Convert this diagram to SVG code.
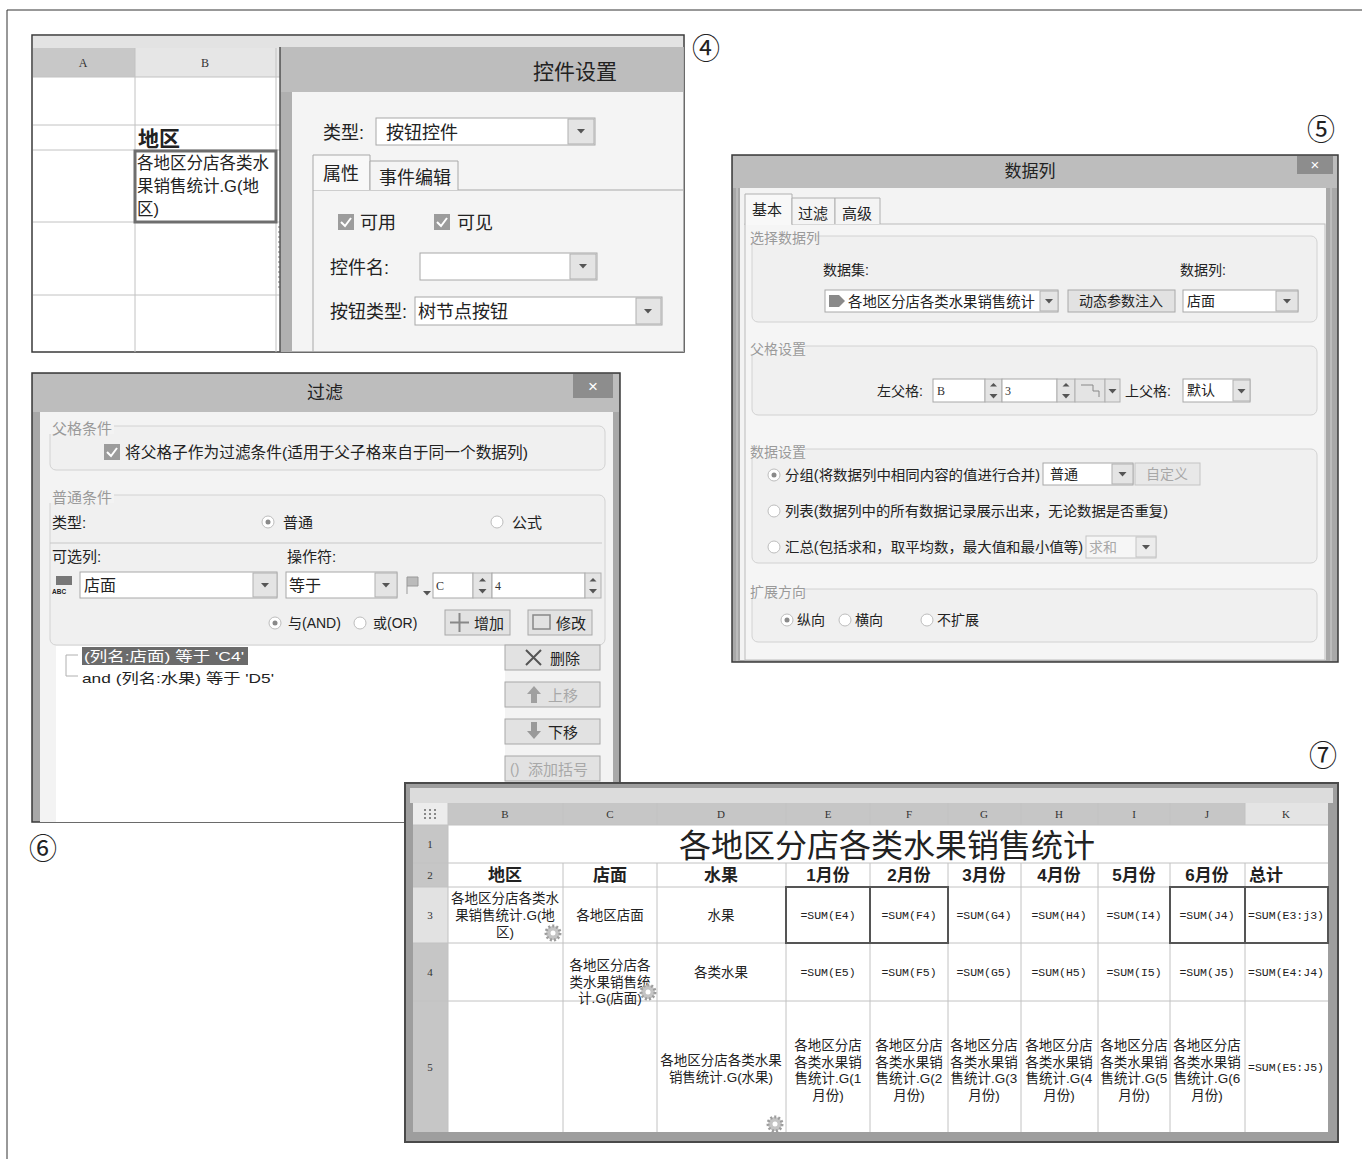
<svg xmlns="http://www.w3.org/2000/svg" xmlns:xlink="http://www.w3.org/1999/xlink" width="1362" height="1159" viewBox="0 0 1362 1159">
<style>
.f{font-family:"Liberation Sans","Noto Sans CJK SC",sans-serif;fill:#222}
.m{font-family:"Liberation Mono","Noto Sans CJK SC",monospace;fill:#222}
.s{font-family:"Liberation Serif","Noto Sans CJK SC",serif;fill:#333}
.gl{fill:#9a9a9a}
.dis{fill:#a8a8a8}
.b{font-weight:bold}
.box{fill:#fff;stroke:#a8a8a8;stroke-width:1}
.dd{fill:#e4e4e4;stroke:#b0b0b0;stroke-width:1}
.btn{fill:#e2e2e2;stroke:#a8a8a8;stroke-width:1}
.grp{fill:#f0f0f0;stroke:#d2d2d2;stroke-width:1}
.grid{stroke:#c2c2c2;stroke-width:1}
.sel{fill:none;stroke:#555;stroke-width:2}
.num{font-family:"Noto Sans CJK SC","Liberation Sans",sans-serif;fill:#222}
</style>
<defs>
<path id="tri" d="M-4,-2H4L0,2.5Z" fill="#555"/>
<path id="triUp" d="M-3.5,1.5H3.5L0,-2Z" fill="#555"/>
<g id="radioOn"><circle r="6" fill="#fff" stroke="#bdbdbd"/><circle r="2.5" fill="#8a8a8a"/></g>
<g id="radioOff"><circle r="6" fill="#fff" stroke="#bdbdbd"/></g>
<g id="chk"><rect width="16" height="16" fill="#9c9c9c"/><polyline points="3,8 7,12 13,4" fill="none" stroke="#fff" stroke-width="2"/></g>
<g id="gear"><circle r="7" fill="#c4c4c4" stroke="#9d9d9d" stroke-width="3" stroke-dasharray="2,2"/><circle r="2.5" fill="#fff"/></g>
</defs>

<g id="frame">
<line x1="7" y1="10" x2="1362" y2="10" stroke="#333" stroke-width="1"/>
<line x1="7" y1="10" x2="7" y2="1159" stroke="#333" stroke-width="1"/>
</g>

<g id="connectors"/>

<!-- Panel 4 -->
<g id="panel4">
<rect x="32" y="35" width="652" height="317" fill="#fff" stroke="#3a3a3a" stroke-width="1.5"/>
<rect x="33" y="36" width="650" height="12" fill="#e3e3e3"/>
<rect x="33" y="48" width="102" height="29" fill="#c8c8c8"/>
<rect x="135" y="48" width="145" height="29" fill="#e6e6e6"/>
<text class="s" x="83" y="67" font-size="12" text-anchor="middle">A</text>
<text class="s" x="205" y="67" font-size="12" text-anchor="middle">B</text>
<g class="grid">
<line x1="135" y1="48" x2="135" y2="352"/>
<line x1="276" y1="48" x2="276" y2="352"/>
<line x1="33" y1="77" x2="280" y2="77"/>
<line x1="33" y1="125" x2="280" y2="125"/>
<line x1="33" y1="150" x2="280" y2="150"/>
<line x1="33" y1="222" x2="280" y2="222"/>
<line x1="33" y1="295" x2="280" y2="295"/>
</g>
<text class="f b" x="138" y="146" font-size="21">地区</text>
<rect x="135" y="151" width="141" height="71" fill="#fff" stroke="#6e6e6e" stroke-width="3"/>
<text class="f" x="137" y="169" font-size="16.5">各地区分店各类水</text>
<text class="f" x="137" y="192" font-size="16.5">果销售统计.G(地</text>
<text class="f" x="137" y="215" font-size="16.5">区)</text>
<line x1="279" y1="226" x2="279" y2="290" stroke="#777" stroke-dasharray="2,3"/>
<rect x="280" y="47" width="404" height="305" fill="#b0b0b0"/>
<line x1="280" y1="47" x2="280" y2="352" stroke="#555" stroke-width="1.5"/>
<rect x="281" y="47" width="402" height="45" fill="#bdbdbd"/>
<rect x="292" y="92" width="391" height="259" fill="#f4f4f4"/>
<text class="f" x="533" y="79" font-size="21" fill="#333">控件设置</text>
<text class="f" x="323" y="139" font-size="18">类型:</text>
<rect class="box" x="376" y="118" width="219" height="27"/>
<rect class="dd" x="568" y="119" width="26" height="25"/>
<use xlink:href="#tri" x="581" y="131"/>
<text class="f" x="386" y="139" font-size="18">按钮控件</text>
<line x1="313" y1="190" x2="683" y2="190" stroke="#a8a8a8"/>
<line x1="313" y1="190" x2="313" y2="352" stroke="#a8a8a8"/>
<path d="M313,190V155H370V190" fill="#f8f8f8" stroke="#a8a8a8"/>
<path d="M370,190V161H458V190" fill="#f4f4f4" stroke="#a8a8a8"/>
<text class="f" x="323" y="180" font-size="18">属性</text>
<text class="f" x="379" y="184" font-size="18">事件编辑</text>
<use xlink:href="#chk" x="338" y="214"/>
<text class="f" x="360" y="229" font-size="18">可用</text>
<use xlink:href="#chk" x="434" y="214"/>
<text class="f" x="457" y="229" font-size="18">可见</text>
<text class="f" x="330" y="274" font-size="18">控件名:</text>
<rect class="box" x="420" y="253" width="177" height="27"/>
<rect class="dd" x="570" y="254" width="26" height="25"/>
<use xlink:href="#tri" x="583" y="266"/>
<text class="f" x="330" y="318" font-size="18">按钮类型:</text>
<rect class="box" x="415" y="297" width="247" height="28"/>
<rect class="dd" x="636" y="298" width="25" height="26"/>
<use xlink:href="#tri" x="648" y="311"/>
<text class="f" x="418" y="318" font-size="18">树节点按钮</text>
</g>
<text class="num" x="692" y="59" font-size="28">④</text>

<!-- Panel 5 -->
<g id="panel5">
<rect x="732" y="155" width="606" height="507" fill="#a8a8a8" stroke="#3a3a3a" stroke-width="1.5"/>
<rect x="733" y="156" width="604" height="32" fill="#bdbdbd"/>
<text class="f" x="1030" y="177" font-size="17" text-anchor="middle" fill="#333">数据列</text>
<rect x="1297" y="156" width="36" height="18" fill="#8d8d8d"/>
<text class="f" x="1315" y="170" font-size="15" text-anchor="middle" fill="#fff" style="fill:#fff">×</text>
<rect x="740" y="188" width="586" height="472" fill="#f3f3f3"/>
<line x1="737" y1="188" x2="737" y2="661" stroke="#cfcfcf"/>
<line x1="1331" y1="188" x2="1331" y2="661" stroke="#cfcfcf"/>
<rect x="745" y="224" width="580" height="436" fill="#f5f5f5" stroke="#bcbcbc"/>
<path d="M745,225V194H792V225" fill="#f8f8f8" stroke="#b0b0b0"/>
<path d="M792,224V198H835V224" fill="#f4f4f4" stroke="#b0b0b0"/>
<path d="M835,224V198H880V224" fill="#f4f4f4" stroke="#b0b0b0"/>
<line x1="746" y1="224" x2="791" y2="224" stroke="#f8f8f8" stroke-width="2"/>
<text class="f" x="752" y="215" font-size="15">基本</text>
<text class="f" x="798" y="219" font-size="15">过滤</text>
<text class="f" x="842" y="219" font-size="15">高级</text>

<rect class="grp" x="752" y="236" width="565" height="86" rx="6"/>
<rect x="749" y="230" width="66" height="14" fill="#f5f5f5"/>
<text class="f gl" x="750" y="243" font-size="14">选择数据列</text>
<text class="f" x="823" y="275" font-size="14">数据集:</text>
<rect class="box" x="825" y="290" width="233" height="22"/>
<path d="M829,295H839L845,301L839,307H829Z" fill="#8a8a8a"/>
<text class="f" x="848" y="307" font-size="14.5" textLength="187" lengthAdjust="spacingAndGlyphs">各地区分店各类水果销售统计</text>
<rect class="dd" x="1040" y="291" width="18" height="20"/>
<use xlink:href="#tri" x="1049" y="301"/>
<rect class="btn" x="1068" y="290" width="107" height="22"/>
<text class="f" x="1121" y="306" font-size="14" text-anchor="middle" fill="#555">动态参数注入</text>
<text class="f" x="1180" y="275" font-size="14">数据列:</text>
<rect class="box" x="1183" y="290" width="115" height="22"/>
<text class="f" x="1187" y="306" font-size="14">店面</text>
<rect class="dd" x="1276" y="291" width="22" height="20"/>
<use xlink:href="#tri" x="1287" y="301"/>

<rect class="grp" x="752" y="346" width="565" height="69" rx="6"/>
<rect x="749" y="341" width="56" height="14" fill="#f5f5f5"/>
<text class="f gl" x="750" y="354" font-size="14">父格设置</text>
<text class="f" x="877" y="396" font-size="14">左父格:</text>
<rect class="box" x="933" y="379" width="52" height="23"/>
<text class="s" x="937" y="395" font-size="12">B</text>
<rect class="dd" x="985" y="379" width="17" height="23"/>
<use xlink:href="#triUp" x="993.5" y="385"/>
<use xlink:href="#tri" x="993.5" y="396"/>
<rect class="box" x="1002" y="379" width="55" height="23"/>
<text class="s" x="1005" y="395" font-size="12">3</text>
<rect class="dd" x="1057" y="379" width="18" height="23"/>
<use xlink:href="#triUp" x="1066" y="385"/>
<use xlink:href="#tri" x="1066" y="396"/>
<rect class="dd" x="1075" y="379" width="30" height="23"/>
<path d="M1081,385H1093V391H1099V397" fill="none" stroke="#888"/>
<rect class="dd" x="1105" y="379" width="15" height="23"/>
<use xlink:href="#tri" x="1112.5" y="391"/>
<text class="f" x="1125" y="396" font-size="14">上父格:</text>
<rect class="box" x="1183" y="379" width="67" height="23"/>
<text class="f" x="1187" y="395" font-size="14">默认</text>
<rect class="dd" x="1233" y="380" width="17" height="21"/>
<use xlink:href="#tri" x="1241.5" y="391"/>

<rect class="grp" x="752" y="449" width="565" height="114" rx="6"/>
<rect x="749" y="444" width="56" height="14" fill="#f5f5f5"/>
<text class="f gl" x="750" y="457" font-size="14">数据设置</text>
<use xlink:href="#radioOn" x="774" y="475"/>
<text class="f" x="785" y="480" font-size="14" textLength="255" lengthAdjust="spacingAndGlyphs">分组(将数据列中相同内容的值进行合并)</text>
<rect class="box" x="1043" y="463" width="90" height="22"/>
<text class="f" x="1050" y="479" font-size="14">普通</text>
<rect class="dd" x="1112" y="464" width="21" height="20"/>
<use xlink:href="#tri" x="1122.5" y="474"/>
<rect x="1135" y="463" width="65" height="22" fill="#e8e8e8" stroke="#c4c4c4"/>
<text class="f dis" x="1167" y="479" font-size="14" text-anchor="middle">自定义</text>
<use xlink:href="#radioOff" x="774" y="511"/>
<text class="f" x="785" y="516" font-size="14" textLength="383" lengthAdjust="spacingAndGlyphs">列表(数据列中的所有数据记录展示出来，无论数据是否重复)</text>
<use xlink:href="#radioOff" x="774" y="547"/>
<text class="f" x="785" y="552" font-size="14" textLength="298" lengthAdjust="spacingAndGlyphs">汇总(包括求和，取平均数，最大值和最小值等)</text>
<rect x="1086" y="536" width="70" height="22" fill="#f6f6f6" stroke="#c4c4c4"/>
<text class="f dis" x="1089" y="552" font-size="14">求和</text>
<rect x="1136" y="537" width="20" height="20" fill="#ececec" stroke="#c4c4c4"/>
<use xlink:href="#tri" x="1146" y="547"/>

<rect class="grp" x="752" y="589" width="565" height="53" rx="6"/>
<rect x="749" y="584" width="56" height="14" fill="#f5f5f5"/>
<text class="f gl" x="750" y="597" font-size="14">扩展方向</text>
<use xlink:href="#radioOn" x="787" y="620"/>
<text class="f" x="797" y="625" font-size="14">纵向</text>
<use xlink:href="#radioOff" x="845" y="620"/>
<text class="f" x="855" y="625" font-size="14">横向</text>
<use xlink:href="#radioOff" x="927" y="620"/>
<text class="f" x="937" y="625" font-size="14">不扩展</text>
</g>
<text class="num" x="1307" y="140" font-size="28">⑤</text>

<!-- Panel 6 -->
<g id="panel6">
<rect x="32" y="373" width="588" height="449" fill="#a8a8a8" stroke="#3a3a3a" stroke-width="1.5"/>
<rect x="33" y="374" width="586" height="38" fill="#bdbdbd"/>
<text class="f" x="325" y="399" font-size="18" text-anchor="middle" fill="#333">过滤</text>
<rect x="573" y="374" width="40" height="24" fill="#8d8d8d"/>
<text class="f" x="593" y="392" font-size="17" text-anchor="middle" style="fill:#fff">×</text>
<rect x="40" y="412" width="573" height="410" fill="#f3f3f3"/>

<rect class="grp" x="50" y="426" width="555" height="44" rx="6"/>
<rect x="48" y="420" width="66" height="14" fill="#f3f3f3"/>
<text class="f gl" x="52" y="434" font-size="15">父格条件</text>
<use xlink:href="#chk" x="104" y="444"/>
<text class="f" x="125" y="458" font-size="15.5" textLength="403" lengthAdjust="spacingAndGlyphs">将父格子作为过滤条件(适用于父子格来自于同一个数据列)</text>

<rect class="grp" x="50" y="495" width="555" height="150" rx="6"/>
<rect x="48" y="489" width="66" height="14" fill="#f3f3f3"/>
<text class="f gl" x="52" y="503" font-size="15">普通条件</text>
<text class="f" x="52" y="528" font-size="15">类型:</text>
<use xlink:href="#radioOn" x="268" y="522"/>
<text class="f" x="283" y="528" font-size="15">普通</text>
<use xlink:href="#radioOff" x="497" y="522"/>
<text class="f" x="512" y="528" font-size="15">公式</text>
<line x1="50" y1="543" x2="602" y2="543" stroke="#c8c8c8"/>
<text class="f" x="52" y="562" font-size="15">可选列:</text>
<text class="f" x="287" y="562" font-size="15">操作符:</text>
<rect x="56" y="576" width="16" height="9" fill="#777"/>
<text class="f" x="52" y="594" font-size="6.5" font-weight="bold">ABC</text>
<rect class="box" x="80" y="572" width="197" height="26"/>
<text class="f" x="84" y="591" font-size="16">店面</text>
<rect class="dd" x="253" y="573" width="24" height="24"/>
<use xlink:href="#tri" x="265" y="585"/>
<rect class="box" x="286" y="572" width="111" height="26"/>
<text class="f" x="289" y="591" font-size="16">等于</text>
<rect class="dd" x="375" y="573" width="22" height="24"/>
<use xlink:href="#tri" x="386" y="585"/>
<path d="M407,577V594M407,577H418V586H407" fill="#bbb" stroke="#999"/>
<use xlink:href="#tri" x="427" y="593"/>
<rect class="box" x="433" y="573" width="40" height="25"/>
<text class="s" x="436" y="590" font-size="12">C</text>
<rect class="dd" x="473" y="573" width="19" height="25"/>
<use xlink:href="#triUp" x="482.5" y="580"/>
<use xlink:href="#tri" x="482.5" y="591"/>
<rect class="box" x="492" y="573" width="93" height="25"/>
<text class="s" x="495" y="590" font-size="12">4</text>
<rect class="dd" x="585" y="573" width="16" height="25"/>
<use xlink:href="#triUp" x="593" y="580"/>
<use xlink:href="#tri" x="593" y="591"/>
<use xlink:href="#radioOn" x="275" y="623"/>
<text class="f" x="288" y="628" font-size="14">与(AND)</text>
<use xlink:href="#radioOff" x="360" y="623"/>
<text class="f" x="373" y="628" font-size="14">或(OR)</text>
<rect class="btn" x="445" y="610" width="65" height="25"/>
<path d="M450,622.5H469M459.5,613V632" stroke="#888" stroke-width="2"/>
<text class="f" x="474" y="629" font-size="15">增加</text>
<rect class="btn" x="528" y="610" width="64" height="25"/>
<rect x="533" y="615" width="17" height="14" fill="none" stroke="#888" stroke-width="1.5"/>
<text class="f" x="556" y="629" font-size="15">修改</text>

<rect x="56" y="646" width="449" height="176" fill="#fff"/>
<rect x="82" y="647" width="166" height="18" fill="#6b6b6b"/>
<text class="f" x="84" y="661" font-size="13.5" style="fill:#fff" textLength="160" lengthAdjust="spacingAndGlyphs">(列名:店面) 等于 'C4'</text>
<path d="M78,655H66V676H78" fill="none" stroke="#b0b0b0"/>
<text class="f" x="82" y="683" font-size="13.5" textLength="192" lengthAdjust="spacingAndGlyphs">and (列名:水果) 等于 'D5'</text>
<rect class="btn" x="505" y="645" width="95" height="25"/>
<path d="M526,650L541,665M541,650L526,665" stroke="#555" stroke-width="2"/>
<text class="f" x="550" y="664" font-size="15">删除</text>
<rect class="btn" x="505" y="682" width="95" height="25"/>
<path d="M527,694L534,686L541,694H537V703H531V694Z" fill="#a0a0a0"/>
<text class="f dis" x="548" y="701" font-size="15">上移</text>
<rect class="btn" x="505" y="719" width="95" height="25"/>
<path d="M527,731L534,739L541,731H537V722H531V731Z" fill="#999"/>
<text class="f" x="548" y="738" font-size="15">下移</text>
<rect class="btn" x="505" y="756" width="95" height="25"/>
<text class="f dis" x="510" y="774" font-size="14">()</text>
<text class="f dis" x="528" y="775" font-size="15">添加括号</text>
</g>
<text class="num" x="29" y="859" font-size="28">⑥</text>

<!-- Panel 7 -->
<g id="panel7">
<rect x="405" y="783" width="933" height="359" fill="#9e9e9e" stroke="#4a4a4a" stroke-width="2"/>
<rect x="410" y="788" width="923" height="15" fill="#dcdcdc"/>
<rect x="413" y="803" width="915" height="329" fill="#fff"/>
<rect x="413" y="803" width="35" height="22" fill="#ececec"/>
<g fill="#888">
<rect x="424" y="809" width="2" height="2"/><rect x="429" y="809" width="2" height="2"/><rect x="434" y="809" width="2" height="2"/>
<rect x="424" y="813" width="2" height="2"/><rect x="429" y="813" width="2" height="2"/><rect x="434" y="813" width="2" height="2"/>
<rect x="424" y="817" width="2" height="2"/><rect x="429" y="817" width="2" height="2"/><rect x="434" y="817" width="2" height="2"/>
</g>
<rect x="448" y="803" width="797" height="22" fill="#c6c6c6"/>
<rect x="1245" y="803" width="83" height="22" fill="#e4e4e4"/>
<rect x="413" y="825" width="35" height="62" fill="#c6c6c6"/>
<rect x="413" y="887" width="35" height="56" fill="#e2e2e2"/>
<rect x="413" y="943" width="35" height="189" fill="#c6c6c6"/>
<g class="grid">
<line x1="448" y1="803" x2="448" y2="1132"/>
<line x1="563" y1="803" x2="563" y2="825"/><line x1="563" y1="863" x2="563" y2="1132"/>
<line x1="657" y1="803" x2="657" y2="825"/><line x1="657" y1="863" x2="657" y2="1132"/>
<line x1="786" y1="803" x2="786" y2="825"/><line x1="786" y1="863" x2="786" y2="1132"/>
<line x1="870" y1="803" x2="870" y2="825"/><line x1="870" y1="863" x2="870" y2="1132"/>
<line x1="948" y1="803" x2="948" y2="825"/><line x1="948" y1="863" x2="948" y2="1132"/>
<line x1="1021" y1="803" x2="1021" y2="825"/><line x1="1021" y1="863" x2="1021" y2="1132"/>
<line x1="1098" y1="803" x2="1098" y2="825"/><line x1="1098" y1="863" x2="1098" y2="1132"/>
<line x1="1170" y1="803" x2="1170" y2="825"/><line x1="1170" y1="863" x2="1170" y2="1132"/>
<line x1="1245" y1="803" x2="1245" y2="825"/><line x1="1245" y1="863" x2="1245" y2="1132"/>
<line x1="413" y1="825" x2="1328" y2="825"/>
<line x1="413" y1="863" x2="1328" y2="863"/>
<line x1="413" y1="887" x2="1328" y2="887"/>
<line x1="413" y1="943" x2="1328" y2="943"/>
<line x1="413" y1="1001" x2="1328" y2="1001"/>
</g>
<g class="s" font-size="11" text-anchor="middle">
<text x="505" y="818">B</text><text x="610" y="818">C</text><text x="721" y="818">D</text>
<text x="828" y="818">E</text><text x="909" y="818">F</text><text x="984" y="818">G</text>
<text x="1059" y="818">H</text><text x="1134" y="818">I</text><text x="1207" y="818">J</text>
<text x="1286" y="818">K</text>
<text x="430" y="848">1</text><text x="430" y="879">2</text><text x="430" y="919">3</text>
<text x="430" y="976">4</text><text x="430" y="1071">5</text>
</g>
<text class="f" x="887" y="857" font-size="32" text-anchor="middle">各地区分店各类水果销售统计</text>
<g class="f b" font-size="17" text-anchor="middle">
<text x="505" y="881">地区</text><text x="610" y="881">店面</text><text x="721" y="881">水果</text>
<text x="828" y="881">1月份</text><text x="909" y="881">2月份</text><text x="984" y="881">3月份</text>
<text x="1059" y="881">4月份</text><text x="1134" y="881">5月份</text><text x="1207" y="881">6月份</text>
</g>
<text class="f b" x="1249" y="881" font-size="17">总计</text>
<g class="f" font-size="13.5" text-anchor="middle">
<text x="505" y="903">各地区分店各类水</text>
<text x="505" y="920">果销售统计.G(地</text>
<text x="505" y="937">区)</text>
<text x="610" y="920">各地区店面</text>
<text x="721" y="920">水果</text>
<text x="610" y="970">各地区分店各</text>
<text x="610" y="987">类水果销售统</text>
<text x="610" y="1003">计.G(店面)</text>
<text x="721" y="977">各类水果</text>
<text x="721" y="1065">各地区分店各类水果</text>
<text x="721" y="1082">销售统计.G(水果)</text>
<text x="828" y="1050">各地区分店</text><text x="828" y="1067">各类水果销</text><text x="828" y="1083">售统计.G(1</text><text x="828" y="1100">月份)</text>
<text x="909" y="1050">各地区分店</text><text x="909" y="1067">各类水果销</text><text x="909" y="1083">售统计.G(2</text><text x="909" y="1100">月份)</text>
<text x="984" y="1050">各地区分店</text><text x="984" y="1067">各类水果销</text><text x="984" y="1083">售统计.G(3</text><text x="984" y="1100">月份)</text>
<text x="1059" y="1050">各地区分店</text><text x="1059" y="1067">各类水果销</text><text x="1059" y="1083">售统计.G(4</text><text x="1059" y="1100">月份)</text>
<text x="1134" y="1050">各地区分店</text><text x="1134" y="1067">各类水果销</text><text x="1134" y="1083">售统计.G(5</text><text x="1134" y="1100">月份)</text>
<text x="1207" y="1050">各地区分店</text><text x="1207" y="1067">各类水果销</text><text x="1207" y="1083">售统计.G(6</text><text x="1207" y="1100">月份)</text>
</g>
<g class="m" font-size="11.5" text-anchor="middle">
<text x="828" y="919">=SUM(E4)</text><text x="909" y="919">=SUM(F4)</text><text x="984" y="919">=SUM(G4)</text>
<text x="1059" y="919">=SUM(H4)</text><text x="1134" y="919">=SUM(I4)</text><text x="1207" y="919">=SUM(J4)</text>
<text x="1286" y="919">=SUM(E3:j3)</text>
<text x="828" y="976">=SUM(E5)</text><text x="909" y="976">=SUM(F5)</text><text x="984" y="976">=SUM(G5)</text>
<text x="1059" y="976">=SUM(H5)</text><text x="1134" y="976">=SUM(I5)</text><text x="1207" y="976">=SUM(J5)</text>
<text x="1286" y="976">=SUM(E4:J4)</text>
<text x="1286" y="1071">=SUM(E5:J5)</text>
</g>
<rect class="sel" x="786" y="887" width="84" height="56"/>
<rect class="sel" x="870" y="887" width="78" height="56"/>
<rect class="sel" x="1170" y="887" width="75" height="56"/>
<rect class="sel" x="1245" y="887" width="83" height="56"/>
<use xlink:href="#gear" x="553" y="933"/>
<use xlink:href="#gear" x="648" y="992"/>
<use xlink:href="#gear" x="775" y="1124"/>
</g>
<text class="num" x="1309" y="766" font-size="28">⑦</text>
</svg>
